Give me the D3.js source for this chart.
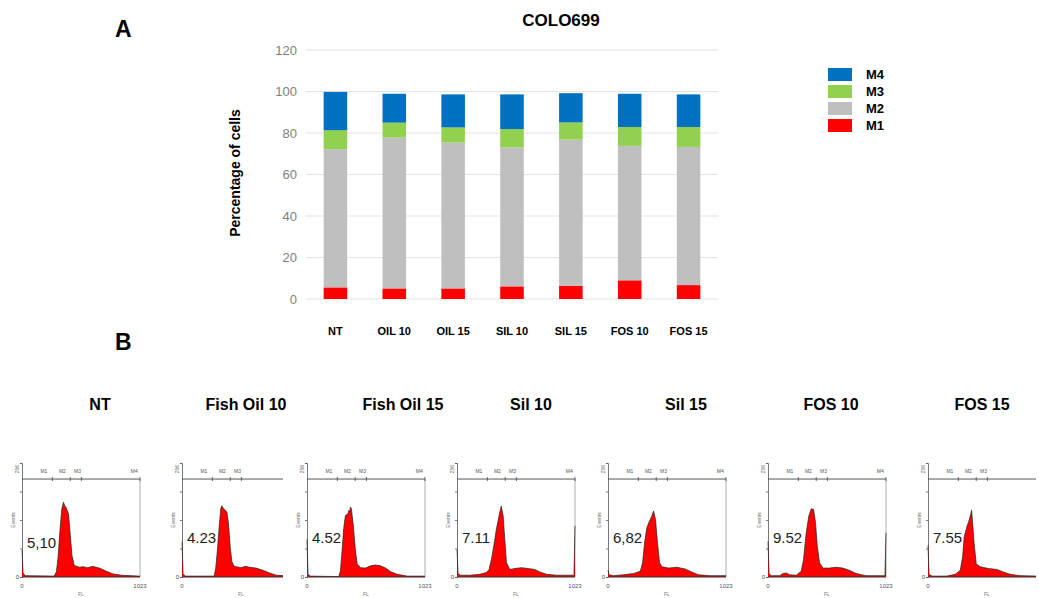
<!DOCTYPE html>
<html>
<head>
<meta charset="utf-8">
<script src="https://cdn.jsdelivr.net/npm/d3@7"></script>
<style>
  body { margin: 0; background: #fff; }
  svg { font-family: Arial, "Liberation Sans", sans-serif; }
</style>
</head>
<body>
<svg id="fig" width="1039" height="598"></svg>
<script>
// ---- panel A data (percentage of cells) ----
const categories = ['NT', 'OIL 10', 'OIL 15', 'SIL 10', 'SIL 15', 'FOS 10', 'FOS 15'];
const m1 = [5.6, 5.1, 5.1, 6.1, 6.4, 9.0, 6.7];
const m2 = [66.6, 72.7, 70.3, 66.9, 70.4, 64.8, 66.6];
const m3 = [9.1, 7.2, 7.3, 8.9, 8.3, 9.1, 9.6];
const m4 = [18.5, 13.9, 15.9, 16.7, 14.1, 16.0, 15.7];
const seriesKeys = ['M1', 'M2', 'M3', 'M4'];
const seriesColors = ['#ff0000', '#bfbfbf', '#92d050', '#0070c0'];
const yTicks = [0, 20, 40, 60, 80, 100, 120];

// ---- panel B data (histograms: [channel, events]) ----
const histTitles = ['NT', 'Fish Oil 10', 'Fish Oil 15', 'Sil 10', 'Sil 15', 'FOS 10', 'FOS 15'];
const histLabels = ['5,10', '4.23', '4.52', '7.11', '6,82', '9.52', '7.55'];
const histNT = [[0,60],[9,9],[29,3],[278,2],[298,11],[313,45],[327,97],[345,153],[360,168],[370,160],[380,157],[403,142],[418,97],[433,49],[453,26],[497,22],[530,23],[570,21],[614,24],[640,22],[672,20],[731,13],[789,7],[862,4],[1014,2],[1023,2]];
const histOil10 = [[0,79],[9,7],[29,2],[278,2],[292,19],[307,60],[322,112],[336,153],[343,160],[351,157],[371,151],[389,146],[403,120],[418,67],[433,34],[453,24],[512,21],[550,24],[585,22],[643,20],[702,15],[760,9],[818,4],[886,3],[1023,2]];
const histOil15 = [[0,85],[9,6],[29,2],[275,1],[290,14],[304,59],[319,111],[333,138],[354,142],[365,150],[371,145],[376,157],[385,153],[400,119],[420,59],[435,29],[464,21],[507,20],[551,25],[594,27],[638,25],[681,20],[725,12],[782,6],[869,2],[1014,2],[1023,2]];
const histSil10 = [[0,62],[9,8],[29,4],[110,4],[197,6],[255,10],[278,17],[299,40],[319,70],[342,108],[365,138],[383,159],[400,138],[414,85],[429,32],[458,17],[501,19],[559,21],[617,19],[675,17],[719,11],[777,6],[864,4],[1014,4],[1023,115]];
const histSil15 = [[0,15],[9,5],[49,3],[135,5],[222,8],[280,13],[300,32],[317,77],[337,111],[360,126],[380,137],[395,148],[412,129],[429,77],[447,32],[467,23],[525,20],[597,22],[669,18],[726,11],[784,5],[885,3],[1023,3]];
const histFos10 = [[0,80],[9,8],[29,3],[101,3],[130,8],[159,9],[187,5],[245,4],[288,13],[308,39],[331,99],[354,137],[375,153],[395,152],[412,122],[427,69],[447,32],[476,20],[533,20],[591,22],[648,20],[706,15],[764,8],[850,3],[1014,3],[1023,99]];
const histFos15 = [[0,71],[9,6],[35,2],[164,2],[236,6],[280,15],[300,45],[314,90],[337,113],[357,128],[372,143],[378,150],[383,135],[400,75],[418,30],[452,23],[524,19],[597,17],[654,11],[712,6],[798,3],[957,2],[1023,2]];
const histData = [histNT, histOil10, histOil15, histSil10, histSil15, histFos10, histFos15];
const gates = [263, 418, 515, 1023];
const gateNames = ['M1', 'M2', 'M3', 'M4'];
const gateLabelAt = [190, 350, 482, 973];

const svg = d3.select('#fig');

// ================= panel A =================
const x = d3.scaleBand().domain(categories).range([306, 718]).paddingInner(0.6).paddingOuter(0.3);
const y = d3.scaleLinear().domain([0, 120]).range([299, 50]);

svg.append('text').attr('x', 115).attr('y', 37).attr('font-size', 23).attr('font-weight', 'bold').text('A');
svg.append('text').attr('x', 561).attr('y', 26).attr('text-anchor', 'middle')
  .attr('font-size', 17).attr('font-weight', 'bold').text('COLO699');

// gridlines
svg.append('g').selectAll('line').data(yTicks).enter().append('line')
  .attr('x1', 306).attr('x2', 718)
  .attr('y1', d => y(d)).attr('y2', d => y(d))
  .attr('stroke', '#e3e3e3').attr('stroke-width', 1);

const yAxis = svg.append('g').attr('transform', 'translate(306,0)')
  .call(d3.axisLeft(y).tickValues(yTicks).tickSize(0).tickPadding(9));
yAxis.select('.domain').remove();
yAxis.selectAll('text').attr('font-size', 13).attr('fill', '#808080').attr('font-family', null);

const xAxis = svg.append('g').attr('transform', 'translate(0,299)')
  .call(d3.axisBottom(x).tickSize(0).tickPadding(28));
xAxis.select('.domain').remove();
xAxis.selectAll('text').attr('font-size', 11).attr('font-weight', 'bold').attr('fill', '#000').attr('font-family', null);

svg.append('text').attr('transform', 'translate(240,173) rotate(-90)')
  .attr('text-anchor', 'middle').attr('font-size', 14).attr('font-weight', 'bold')
  .text('Percentage of cells');

// stacked bars
const rows = categories.map((c, i) => ({ cat: c, M1: m1[i], M2: m2[i], M3: m3[i], M4: m4[i] }));
const stacked = d3.stack().keys(seriesKeys)(rows);
svg.append('g').selectAll('g').data(stacked).enter().append('g')
  .attr('fill', (d, i) => seriesColors[i])
  .selectAll('rect').data(d => d).enter().append('rect')
  .attr('x', d => x(d.data.cat))
  .attr('y', d => y(d[1]))
  .attr('height', d => y(d[0]) - y(d[1]))
  .attr('width', x.bandwidth());

// legend
const legend = svg.append('g');
const legendKeys = seriesKeys.slice().reverse();
const legendColors = seriesColors.slice().reverse();
legendKeys.forEach((k, i) => {
  legend.append('rect').attr('x', 828).attr('y', 68 + i * 17).attr('width', 24).attr('height', 13).attr('fill', legendColors[i]);
  legend.append('text').attr('x', 866).attr('y', 79 + i * 17).attr('font-size', 13).attr('font-weight', 'bold').text(k);
});

// ================= panel B =================
svg.append('text').attr('x', 115).attr('y', 350).attr('font-size', 23).attr('font-weight', 'bold').text('B');

const titleX = [100, 246, 403, 531, 686, 831, 982];
histTitles.forEach((t, i) => {
  svg.append('text').attr('x', titleX[i]).attr('y', 410).attr('text-anchor', 'middle')
    .attr('font-size', 16).attr('font-weight', 'bold').text(t);
});

// panel 2 and panel 7 are cropped in the source figure
const panelLeft = [22, 182, 307, 457, 608, 768, 928];
const panelClip = [200, 101, 200, 200, 200, 200, 108];
const hx = d3.scaleLinear().domain([0, 1023]).range([0, 118]);
const hy = d3.scaleLinear().domain([0, 256]).range([114, 0]);
const histTop = 463; // y of 256 events
const gateY = hy(220);

const defs = svg.append('defs');

histData.forEach((data, i) => {
  defs.append('clipPath').attr('id', 'clip' + i)
    .append('rect').attr('x', -20).attr('y', -20).attr('width', panelClip[i] + 20).attr('height', 160);

  const g = svg.append('g').attr('transform', `translate(${panelLeft[i]},${histTop})`)
    .append('g').attr('clip-path', `url(#clip${i})`);

  // axes
  const ya = g.append('g').call(d3.axisLeft(hy).tickValues([0, 64, 128, 192, 256]).tickSize(2).tickFormat(''));
  ya.select('.domain').attr('stroke', '#555').attr('stroke-width', 0.8);
  ya.selectAll('line').attr('stroke', '#555').attr('stroke-width', 0.8);
  g.append('text').attr('x', -3).attr('y', 115.5).attr('text-anchor', 'end').attr('font-size', 6).attr('fill', '#444').text('0');
  g.append('text').attr('transform', 'translate(-3,2) rotate(-90)').attr('text-anchor', 'end').attr('font-size', 5).attr('fill', '#666').text('256');
  g.append('text').attr('transform', 'translate(-7,57) rotate(-90)').attr('text-anchor', 'middle').attr('font-size', 5).attr('fill', '#666').text('Events');
  g.append('text').attr('x', 0).attr('y', 125).attr('text-anchor', 'middle').attr('font-size', 6).attr('fill', '#555').text('0');
  if (panelClip[i] > 118) {
    g.append('text').attr('x', hx(1023)).attr('y', 125).attr('text-anchor', 'middle').attr('font-size', 6).attr('fill', '#555').text('1023');
  }
  g.append('text').attr('x', hx(511)).attr('y', 133).attr('text-anchor', 'middle').attr('font-size', 5).attr('fill', '#777').text('FL');

  // gate bar
  g.append('line').attr('x1', 0).attr('x2', hx(1023)).attr('y1', gateY).attr('y2', gateY)
    .attr('stroke', '#444').attr('stroke-width', 0.9);
  g.append('line').attr('x1', hx(1023)).attr('x2', hx(1023)).attr('y1', gateY).attr('y2', hy(0))
    .attr('stroke', '#999').attr('stroke-width', 0.8);
  gates.forEach((c, j) => {
    g.append('line').attr('x1', hx(c)).attr('x2', hx(c)).attr('y1', gateY - 2).attr('y2', gateY + 2)
      .attr('stroke', '#444').attr('stroke-width', 0.8);
    if (hx(gateLabelAt[j]) + 4 < panelClip[i]) {
      g.append('text').attr('x', hx(gateLabelAt[j])).attr('y', gateY - 6).attr('text-anchor', 'middle')
        .attr('font-size', 5).attr('fill', '#555').text(gateNames[j]);
    }
  });

  // value label (behind the histogram)
  g.append('text').attr('x', 5).attr('y', i === 0 ? 85 : 80).attr('font-size', 15).attr('fill', '#222').text(histLabels[i]);

  const area = d3.area().x(d => hx(d[0])).y0(hy(0)).y1(d => hy(d[1]));
  const line = d3.line().x(d => hx(d[0])).y(d => hy(d[1]));
  g.append('path').datum(data).attr('d', area).attr('fill', '#ff0000');
  g.append('path').datum(data).attr('d', line).attr('fill', 'none').attr('stroke', '#222').attr('stroke-width', 0.7);
  g.append('line').attr('x1', 0).attr('x2', hx(1023)).attr('y1', hy(0)).attr('y2', hy(0))
    .attr('stroke', '#333').attr('stroke-width', 1.2);
});
</script>
</body>
</html>
